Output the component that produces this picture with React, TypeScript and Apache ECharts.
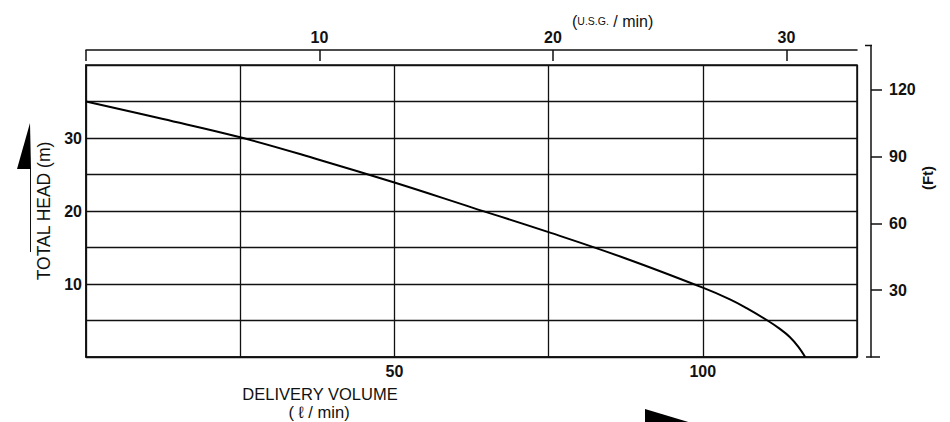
import React, { useEffect, useRef } from "react";
import * as echarts from "echarts";

// Pump performance curve: delivery volume (l/min) vs total head (m)
const VOLUME_LPM = [0, 12.5, 25, 37.5, 50, 62.5, 75, 87.5, 100, 104.4, 107.1, 110.3, 112.5, 114.1, 115.5, 116.6];
const HEAD_M = [35, 32.6, 30.1, 27.1, 23.9, 20.5, 17.1, 13.5, 9.5, 7.9, 6.7, 5.1, 3.85, 2.75, 1.4, 0];

const X_LABELS = [50, 100];
const Y_LABELS = [10, 20, 30];
const USG_TICKS = [10, 20, 30];
const FT_TICKS = [30, 60, 90, 120];

const L_PER_USG = 3.785411784;
const FT_PER_M = 3.28084;

const FONT = "'Liberation Sans', 'DejaVu Sans', Arial, sans-serif";
const INK = "#111";

export default function App() {
  const ref = useRef<HTMLDivElement>(null);

  useEffect(() => {
    if (!ref.current) return;
    const chart = echarts.init(ref.current, null, { renderer: "svg" });

    const W = 950;
    const H = 422;
    const gl = 86;
    const gr = 857;
    const gt = 65;
    const gb = 357;
    const xMax = 125;
    const yMax = 40;
    const ftMax = 140;
    const pxPerM = (gb - gt) / yMax;
    const ftTop = gb - (ftMax / FT_PER_M) * pxPerM;
    const axisX = 872;

    const numLabel = {
      fontSize: 16,
      fontWeight: "bold" as const,
      color: INK,
      fontFamily: FONT,
    };
    const lineStyle = { color: INK, width: 1.5 };

    chart.setOption({
      animation: false,
      backgroundColor: "#fff",
      grid: [
        {
          left: gl,
          right: W - gr,
          top: gt,
          bottom: H - gb,
          show: true,
          borderColor: INK,
          borderWidth: 1.5,
        },
        {
          left: axisX - 1,
          right: W - axisX,
          top: ftTop,
          bottom: H - gb,
        },
      ],
      xAxis: [
        {
          gridIndex: 0,
          type: "value",
          position: "bottom",
          min: 0,
          max: xMax,
          interval: 25,
          axisLine: { show: true, lineStyle },
          axisTick: { show: false },
          axisLabel: { ...numLabel, customValues: X_LABELS, margin: 6 },
          splitLine: { show: true, lineStyle: { color: INK, width: 1.3 } },
        },
        {
          gridIndex: 0,
          type: "value",
          position: "top",
          offset: 15,
          min: 0,
          max: xMax / L_PER_USG,
          axisLine: { show: true, lineStyle },
          axisTick: {
            show: true,
            inside: true,
            length: 11,
            customValues: [0, ...USG_TICKS],
            lineStyle,
          },
          axisLabel: { ...numLabel, customValues: USG_TICKS, margin: 5 },
          splitLine: { show: false },
        },
        {
          gridIndex: 1,
          type: "value",
          show: false,
        },
      ],
      yAxis: [
        {
          gridIndex: 0,
          type: "value",
          position: "left",
          min: 0,
          max: yMax,
          interval: 5,
          axisLine: { show: true, lineStyle },
          axisTick: { show: false },
          axisLabel: { ...numLabel, customValues: Y_LABELS, margin: 4 },
          splitLine: { show: true, lineStyle: { color: INK, width: 1.3 } },
          name: "TOTAL HEAD (m)",
          nameLocation: "middle",
          nameRotate: 90,
          nameGap: 30,
          nameTextStyle: { fontSize: 17.5, color: INK, fontFamily: FONT },
        },
        {
          gridIndex: 1,
          type: "value",
          position: "right",
          min: 0,
          max: ftMax,
          axisLine: { show: true, lineStyle },
          axisTick: {
            show: true,
            length: 11,
            customValues: FT_TICKS,
            lineStyle,
          },
          axisLabel: { ...numLabel, customValues: FT_TICKS, margin: 17 },
          splitLine: { show: false },
        },
      ],
      series: [
        {
          type: "line",
          xAxisIndex: 0,
          yAxisIndex: 0,
          data: VOLUME_LPM.map((v, i) => [v, HEAD_M[i]]),
          smooth: 0.4,
          showSymbol: false,
          lineStyle: { color: "#000", width: 2 },
          z: 5,
        },
      ],
      graphic: [
        {
          type: "text",
          x: 572,
          y: 21,
          style: {
            text: "{a|(}{b|U.S.G.}{a| / min)}",
            textVerticalAlign: "middle",
            fill: INK,
            rich: {
              a: { fontSize: 16, fontFamily: FONT, fill: INK, color: INK },
              b: { fontSize: 10.5, fontFamily: FONT, fill: INK, color: INK },
            },
          },
        },
        {
          type: "text",
          x: 320,
          y: 394,
          style: {
            text: "DELIVERY VOLUME",
            textAlign: "center",
            textVerticalAlign: "middle",
            fontSize: 16.5,
            fontFamily: FONT,
            fill: INK,
          },
        },
        {
          type: "text",
          x: 319,
          y: 411.5,
          style: {
            text: "( ℓ / min)",
            textAlign: "center",
            textVerticalAlign: "middle",
            fontSize: 16.5,
            fontFamily: FONT,
            fill: INK,
          },
        },
        {
          type: "text",
          x: 927,
          y: 178,
          rotation: Math.PI / 2,
          style: {
            text: "(Ft)",
            textAlign: "center",
            textVerticalAlign: "middle",
            fontSize: 15,
            fontWeight: "bold",
            fontFamily: FONT,
            fill: INK,
          },
        },
        {
          type: "line",
          shape: { x1: 865, y1: ftTop, x2: axisX, y2: ftTop },
          style: { stroke: INK, lineWidth: 1.5 },
        },
        {
          type: "line",
          shape: { x1: 866, y1: gb, x2: 880, y2: gb },
          style: { stroke: INK, lineWidth: 1.5 },
        },
        {
          type: "polygon",
          shape: { points: [[30, 123], [31, 169], [17, 169]] },
          style: { fill: "#000" },
        },
        {
          type: "line",
          shape: { x1: 30.5, y1: 169, x2: 30.5, y2: 252 },
          style: { stroke: INK, lineWidth: 1 },
        },
        {
          type: "polygon",
          shape: { points: [[645, 409], [705, 427], [645, 427]] },
          style: { fill: "#000" },
        },
      ],
    });

    return () => {
      chart.dispose();
    };
  }, []);

  return (
    <div
      ref={ref}
      style={{ position: "fixed", left: 0, top: 0, width: 950, height: 422, background: "#fff" }}
    />
  );
}
